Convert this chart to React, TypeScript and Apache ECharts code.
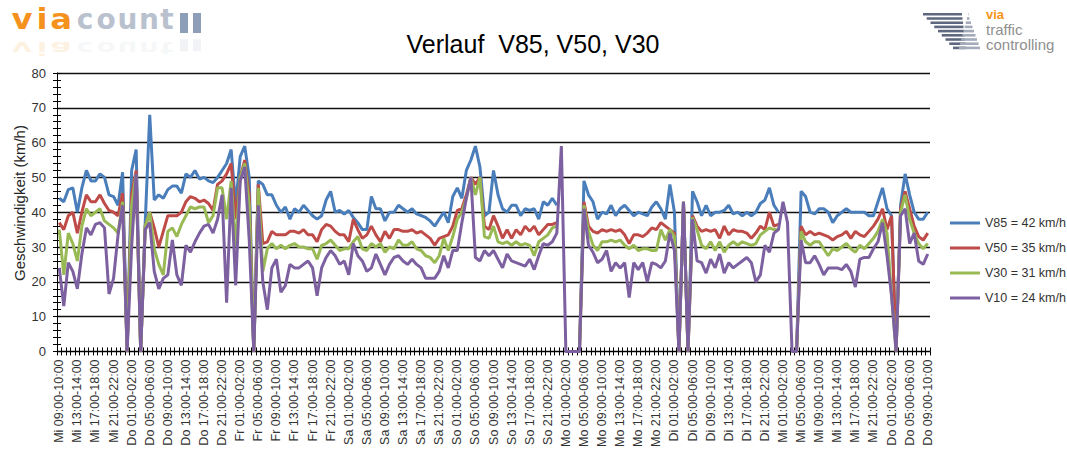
import React, { useEffect, useRef } from "react";
import * as echarts from "echarts";

// ---------- data ----------
const DAYS = ["Mi", "Do", "Fr", "Sa", "So", "Mo", "Di", "Mi", "Do"];
const START_HOUR = 9;
const HOUR_COUNT = 193;
const pad2 = (n: number) => (n < 10 ? "0" + n : "" + n);
const categories: string[] = [];
for (let k = 0; k < HOUR_COUNT; k++) {
  const h = START_HOUR + k;
  const hh = h % 24;
  categories.push(`${DAYS[Math.floor(h / 24)]} ${pad2(hh)}:00-${pad2(hh + 1)}:00`);
}

const seriesNames = ["V85", "V50", "V30", "V10"];
const seriesAverages = [42, 35, 31, 24];
const seriesColors = ["#4A7EBB", "#BE4B48", "#98B954", "#7D60A0"];
const yTicks = [0, 10, 20, 30, 40, 50, 60, 70, 80];

const v85 = [
  44, 43, 46.5, 47, 40, 47, 52, 49, 49, 51, 50, 45,
  44.5, 42, 51.5, 0, 52, 58, 0, 37, 68, 43.5, 45, 44,
  46.5, 47.5, 47.5, 45.5, 51, 50, 52, 49.5, 50, 49, 48.5, 50,
  52, 54, 58, 42, 56, 59, 50, 0, 49, 48, 45, 45,
  42, 40, 41.5, 38, 41, 40, 42, 40.5, 39, 38, 39, 43.5,
  46, 40, 40.5, 39.5, 40.5, 38.5, 37, 35, 35, 44.5, 41, 41,
  37.5, 40, 40, 42, 41, 40, 41, 39.5, 39, 38.5, 37.5, 36,
  38, 40, 37, 44.5, 47, 44, 52, 55, 59, 53, 39, 40,
  52, 45, 41, 40, 42, 42, 39, 41, 40.5, 41, 38, 43,
  42, 44, 42, null, 0, 0, 0, 0, 49, 45, 43, 38,
  40, 39.5, 42, 39, 41, 42, 40.5, 39, 40, 39.5, 39, 41.5,
  43, 41, 38, 48, 40, 0, 43, 0, 46, 43, 39, 42,
  39, 40, 40, 40.5, 42, 39.5, 40, 39, 40, 39, 40, 42.5,
  43.5, 47, 42, 40, null, null, 0, 0, 46, 44.5, 40, 39.5,
  41, 41, 40, 37, 39, 40, 41, 40, 40, 40, 40, 39,
  39, 43, 47, 41, 39, 0, 42, 51, 45, 40, 38, 38, 40,
];
const v50 = [
  37, 35, 39, 40, 34, 40, 45, 43, 43, 45, 42.5, 40.5,
  40, 39, 45.5, 0, 45, 52, 0, 36, 40, 35.5, 30, 34.5,
  39, 39, 39, 40, 43, 44.5, 44, 43, 43.5, 42.5, 40.5, 48,
  49, 51, 54, 38, 50, 55, 45, 0, 48, 31, 31.5, 34.5,
  33.5, 33.5, 33.5, 34.5, 34.5, 34, 35, 33.5, 33.5, 31.5, 35, 36.5,
  36, 34.5, 33.5, 33.5, 31.5, 38, 35, 32.5, 33.5, 36, 33.5, 31.5,
  34.5, 32.5, 35, 35, 34.5, 34.5, 35, 34, 34.5, 33.5, 32.5, 30.5,
  32.5, 33, 33.5, 36, 40.5, 41, 45, 50, 48, 50, 36, 35,
  39, 36, 32.5, 35, 32.5, 35, 33.5, 36, 34.5, 36, 33.5, 35,
  36.5, 36.5, 37, null, 0, 0, 0, 0, 43, 36, 34.5, 34,
  35, 34.5, 35, 34.5, 35, 33.5, 31, 33.5, 33.5, 33, 34, 35.5,
  35, 37, 36, 35, 34, 0, 43, 0, 39, 36, 34.5, 35,
  34.5, 35, 32.5, 36, 33.5, 35, 34.5, 34.5, 34, 32.5, 34, 36,
  35, 40, 36, 36.5, null, null, 0, 0, 36, 33.5, 34.5, 33.5,
  34, 33.5, 33, 32, 33, 33.5, 34.5, 32.5, 34.5, 33.5, 33, 34.5,
  36, 38, 41, 35, 39, 0, 41, 46, 41, 36, 33, 32, 34,
];
const v30 = [
  35, 22, 34, 31, 26, 36, 41, 39, 40, 41, 37.5, 36.5,
  35.5, 34, 43, 0, 42, 51, 0, 36, 40, 29.5, 25, 22,
  34.5, 35.5, 33, 36.5, 39, 41.5, 41, 41.5, 41.5, 37, 39, 47,
  47, 38, 49, 30, 50, 54, 42, 0, 47, 23, 29.5, 31,
  29.5, 30.5, 29.5, 30.5, 31, 30, 30, 29.5, 29.5, 26.5, 30.5, 31,
  32, 30.5, 29, 29.5, 29.5, 31.5, 33, 29.5, 29, 31, 30, 31,
  28.5, 30, 29.5, 32, 30.5, 30.5, 31.5, 29.5, 29, 27.5, 27, 25.5,
  27.5, 32.5, 29, 33, 38, 40, 44, 50, 45, 50, 33, 32.5,
  36, 31.5, 31, 31.5, 30.5, 31.5, 30.5, 31, 30.5, 27.5, 31.5, 32.5,
  33.5, 35.5, 36, null, 0, 0, 0, 0, 42, 34.5, 30.5, 29,
  31.5, 31.5, 32, 31.5, 32, 30.5, 29.5, 30.5, 29, 29.5, 29.5, 29,
  29, 35, 32, 35, 33, 0, 43, 0, 38.5, 35, 30.5, 29.5,
  31.5, 29, 31.5, 28.5, 30.5, 31.5, 30.5, 31.5, 31, 30.5, 31, 33.5,
  34.5, 35.5, 35, 35, null, null, 0, 0, 34.5, 31.5, 30.5, 31.5,
  31.5, 29.5, 27.5, 29.5, 29, 30, 31, 29.5, 28.5, 30.5, 29.5, 31,
  32.5, 34.5, 38, 34, 16, 0, 40, 45, 38, 34, 31, 29.5, 31,
];
const v10 = [
  24, 13, 25.5, 23, 18, 28, 35.5, 33.5, 36.5, 37, 35.5, 16.5,
  21, 33.5, 42, 0, 30, 51, 0, 35, 37, 23, 18, 21,
  22, 32, 22, 19, 30.5, 28.5, 31.5, 34, 36, 36.5, 34, 38,
  45, 14, 47, 19, 49, 53, 32, 0, 42, 20, 12, 24,
  26.5, 17, 19, 25, 24, 24, 25, 26, 24, 16, 24, 27,
  29, 27.5, 25, 26, 22, 31, 27.5, 26, 23, 24, 28, 25,
  22, 25, 27, 27.5, 26, 25, 26.5, 25, 24, 21, 21, 21,
  23, 27.5, 24, 29, 29, 37, 44, 50, 27, 26, 29, 27.5,
  29, 26.5, 24, 28, 26, 25.5, 25, 24.5, 26.5, 23.5, 27.5, 31,
  30.5, 31.5, 34, 59, 0, 0, 0, 0, 41, 30.5, 28.5, 25.5,
  26.5, 29, 23, 25.5, 24, 25.5, 15.5, 25.5, 23.5, 25.5, 20, 25.5,
  25, 24, 26, 34, 29, 0, 43, 0, 38, 26, 25.5, 22.5,
  26.5, 24, 28, 22.5, 25.5, 24, 25, 26, 27, 25.5, 20, 22,
  30.5, 28.5, 34, 35, 43, 37, 0, 0, 32, 25.5, 25.5, 27.5,
  25, 22, 24, 24, 24, 23.5, 25, 23, 18.5, 26.5, 27, 27,
  29.5, 31.5, 37, 27.5, 16, 0, 39, 41, 31, 34, 26, 25, 28,
];
const seriesData = [v85, v50, v30, v10];

const titleText = "Verlauf  V85, V50, V30";
const yAxisTitle = "Geschwindigkeit (km/h)";

// ---------- decoration (logos) ----------
function buildLogos(): any[] {
  const els: any[] = [];
  const font = "DejaVu Sans, Liberation Sans, sans-serif";
  const letters = [
    { ch: "v", x: 22, c: "#F5921E", sx: 1.15 },
    { ch: "i", x: 42, c: "#F5921E", sx: 1.15 },
    { ch: "a", x: 61, c: "#F5921E", sx: 1.15 },
    { ch: "c", x: 85, c: "#B9C1CE", sx: 1 },
    { ch: "o", x: 106, c: "#B9C1CE", sx: 1 },
    { ch: "u", x: 127.5, c: "#B9C1CE", sx: 1 },
    { ch: "n", x: 149, c: "#B9C1CE", sx: 1 },
    { ch: "t", x: 167, c: "#B9C1CE", sx: 1 },
  ];
  const mk = (opacity: number) =>
    letters
      .map((l) => ({
        type: "text",
        x: l.x,
        y: 33,
        scaleX: l.sx,
        style: {
          text: l.ch,
          fill: l.c,
          opacity,
          font: `bold 28px ${font}`,
          textAlign: "center",
          textVerticalAlign: "bottom",
        },
      }))
      .concat([
        { type: "rect", shape: { x: 180, y: 13, width: 8, height: 20 }, style: { fill: "#8E9EB8", opacity } } as any,
        { type: "rect", shape: { x: 193, y: 13, width: 8, height: 20 }, style: { fill: "#8E9EB8", opacity } } as any,
      ]);
  els.push({ type: "group", children: mk(1) });
  els.push({ type: "group", x: 0, y: 59, scaleY: -0.6, children: mk(0.12) });

  // right logo: striped shape
  const stripes: any[] = [];
  for (let k = 0; k < 9; k++) {
    const t = k / 8;
    const y = 13 + k * 4.2;
    const l1 = 923 + t * 30;
    const r1 = 962 + t * 4;
    stripes.push({ type: "rect", shape: { x: l1, y, width: r1 - l1, height: 2.6 }, style: { fill: "#5E687E" } });
    const l2 = 968 - t * 9;
    const r2 = 968 + t * 12;
    stripes.push({ type: "rect", shape: { x: l2, y, width: Math.max(r2 - l2, 0.5), height: 2.6 }, style: { fill: "#A3ABBA" } });
  }
  els.push({ type: "group", children: stripes });
  els.push({ type: "text", x: 986, y: 14, style: { text: "via", fill: "#F39419", font: "bold 13px Liberation Sans, sans-serif", textVerticalAlign: "middle" } });
  els.push({ type: "text", x: 986, y: 29, style: { text: "traffic", fill: "#8F8F8F", font: "15px Liberation Sans, sans-serif", textVerticalAlign: "middle" } });
  els.push({ type: "text", x: 986, y: 44, style: { text: "controlling", fill: "#8F8F8F", font: "15px Liberation Sans, sans-serif", textVerticalAlign: "middle" } });
  return els;
}

export default function App() {
  const ref = useRef<HTMLDivElement>(null);
  useEffect(() => {
    if (!ref.current) return;
    const chart = echarts.init(ref.current, undefined, { renderer: "svg" });
    const black = "#000000";
    const legendNames = seriesNames.map((n, i) => `${n} = ${seriesAverages[i]} km/h`);
    chart.setOption({
      animation: false,
      backgroundColor: "#ffffff",
      textStyle: { fontFamily: "Liberation Sans, Arial, sans-serif" },
      grid: { left: 57, right: 137, top: 73, bottom: 97, containLabel: false },
      xAxis: [
        {
          type: "category",
          position: "bottom",
          data: categories,
          boundaryGap: true,
          axisLine: { show: true, lineStyle: { color: black, width: 1 } },
          axisTick: { show: true, interval: 0, length: 4, lineStyle: { color: black, width: 1 } },
          axisLabel: { interval: 3, rotate: 90, fontSize: 12.5, color: "#333333", margin: 8 },
          splitLine: { show: false },
        },
        {
          type: "category",
          position: "bottom",
          data: categories,
          boundaryGap: true,
          axisLine: { show: false },
          axisTick: { show: true, inside: true, interval: 0, length: 4, lineStyle: { color: black, width: 1 } },
          axisLabel: { show: false },
          splitLine: { show: false },
        },
      ],
      yAxis: [
        {
          type: "value",
          position: "left",
          min: yTicks[0],
          max: yTicks[yTicks.length - 1],
          interval: 10,
          axisLine: { show: true, lineStyle: { color: black, width: 1 } },
          axisTick: { show: true, length: 4, lineStyle: { color: black } },
          minorTick: { show: true, splitNumber: 5, length: 4, lineStyle: { color: black } },
          axisLabel: { fontSize: 13, color: "#333333", margin: 11 },
          splitLine: { show: true, lineStyle: { color: "#111111", width: 1.3 } },
        },
        {
          type: "value",
          position: "left",
          min: yTicks[0],
          max: yTicks[yTicks.length - 1],
          interval: 10,
          axisLine: { show: false },
          axisTick: { show: true, inside: true, length: 4, lineStyle: { color: black } },
          minorTick: { show: true, splitNumber: 5, length: 4, lineStyle: { color: black } },
          axisLabel: { show: false },
          splitLine: { show: false },
        },
      ],
      legend: {
        orient: "vertical",
        left: 945,
        top: 210,
        itemWidth: 30,
        itemHeight: 3,
        itemGap: 9,
        icon: "rect",
        data: legendNames,
        textStyle: { fontSize: 12.5, color: "#333333", lineHeight: 16 },
        selectedMode: false,
      },
      series: seriesData.map((d, i) => ({
        name: legendNames[i],
        type: "line",
        data: d,
        xAxisIndex: 0,
        yAxisIndex: 0,
        showSymbol: false,
        symbol: "none",
        connectNulls: false,
        color: seriesColors[i],
        lineStyle: { color: seriesColors[i], width: 3 },
        itemStyle: { color: seriesColors[i] },
        z: 2 + i,
      })),
      graphic: [
        {
          type: "text",
          x: 533,
          y: 44,
          style: {
            text: titleText,
            fill: "#000000",
            font: "25px Liberation Sans, Arial, sans-serif",
            textAlign: "center",
            textVerticalAlign: "middle",
          },
        },
        {
          type: "text",
          x: 19,
          y: 203,
          rotation: Math.PI / 2,
          style: {
            text: yAxisTitle,
            fill: "#262626",
            font: "15px Liberation Sans, Arial, sans-serif",
            textAlign: "center",
            textVerticalAlign: "middle",
          },
        },
        ...buildLogos(),
      ],
    });
    return () => chart.dispose();
  }, []);
  return (
    <div
      ref={ref}
      style={{ position: "absolute", left: 0, top: 0, width: 1067, height: 450, background: "#fff" }}
    />
  );
}
